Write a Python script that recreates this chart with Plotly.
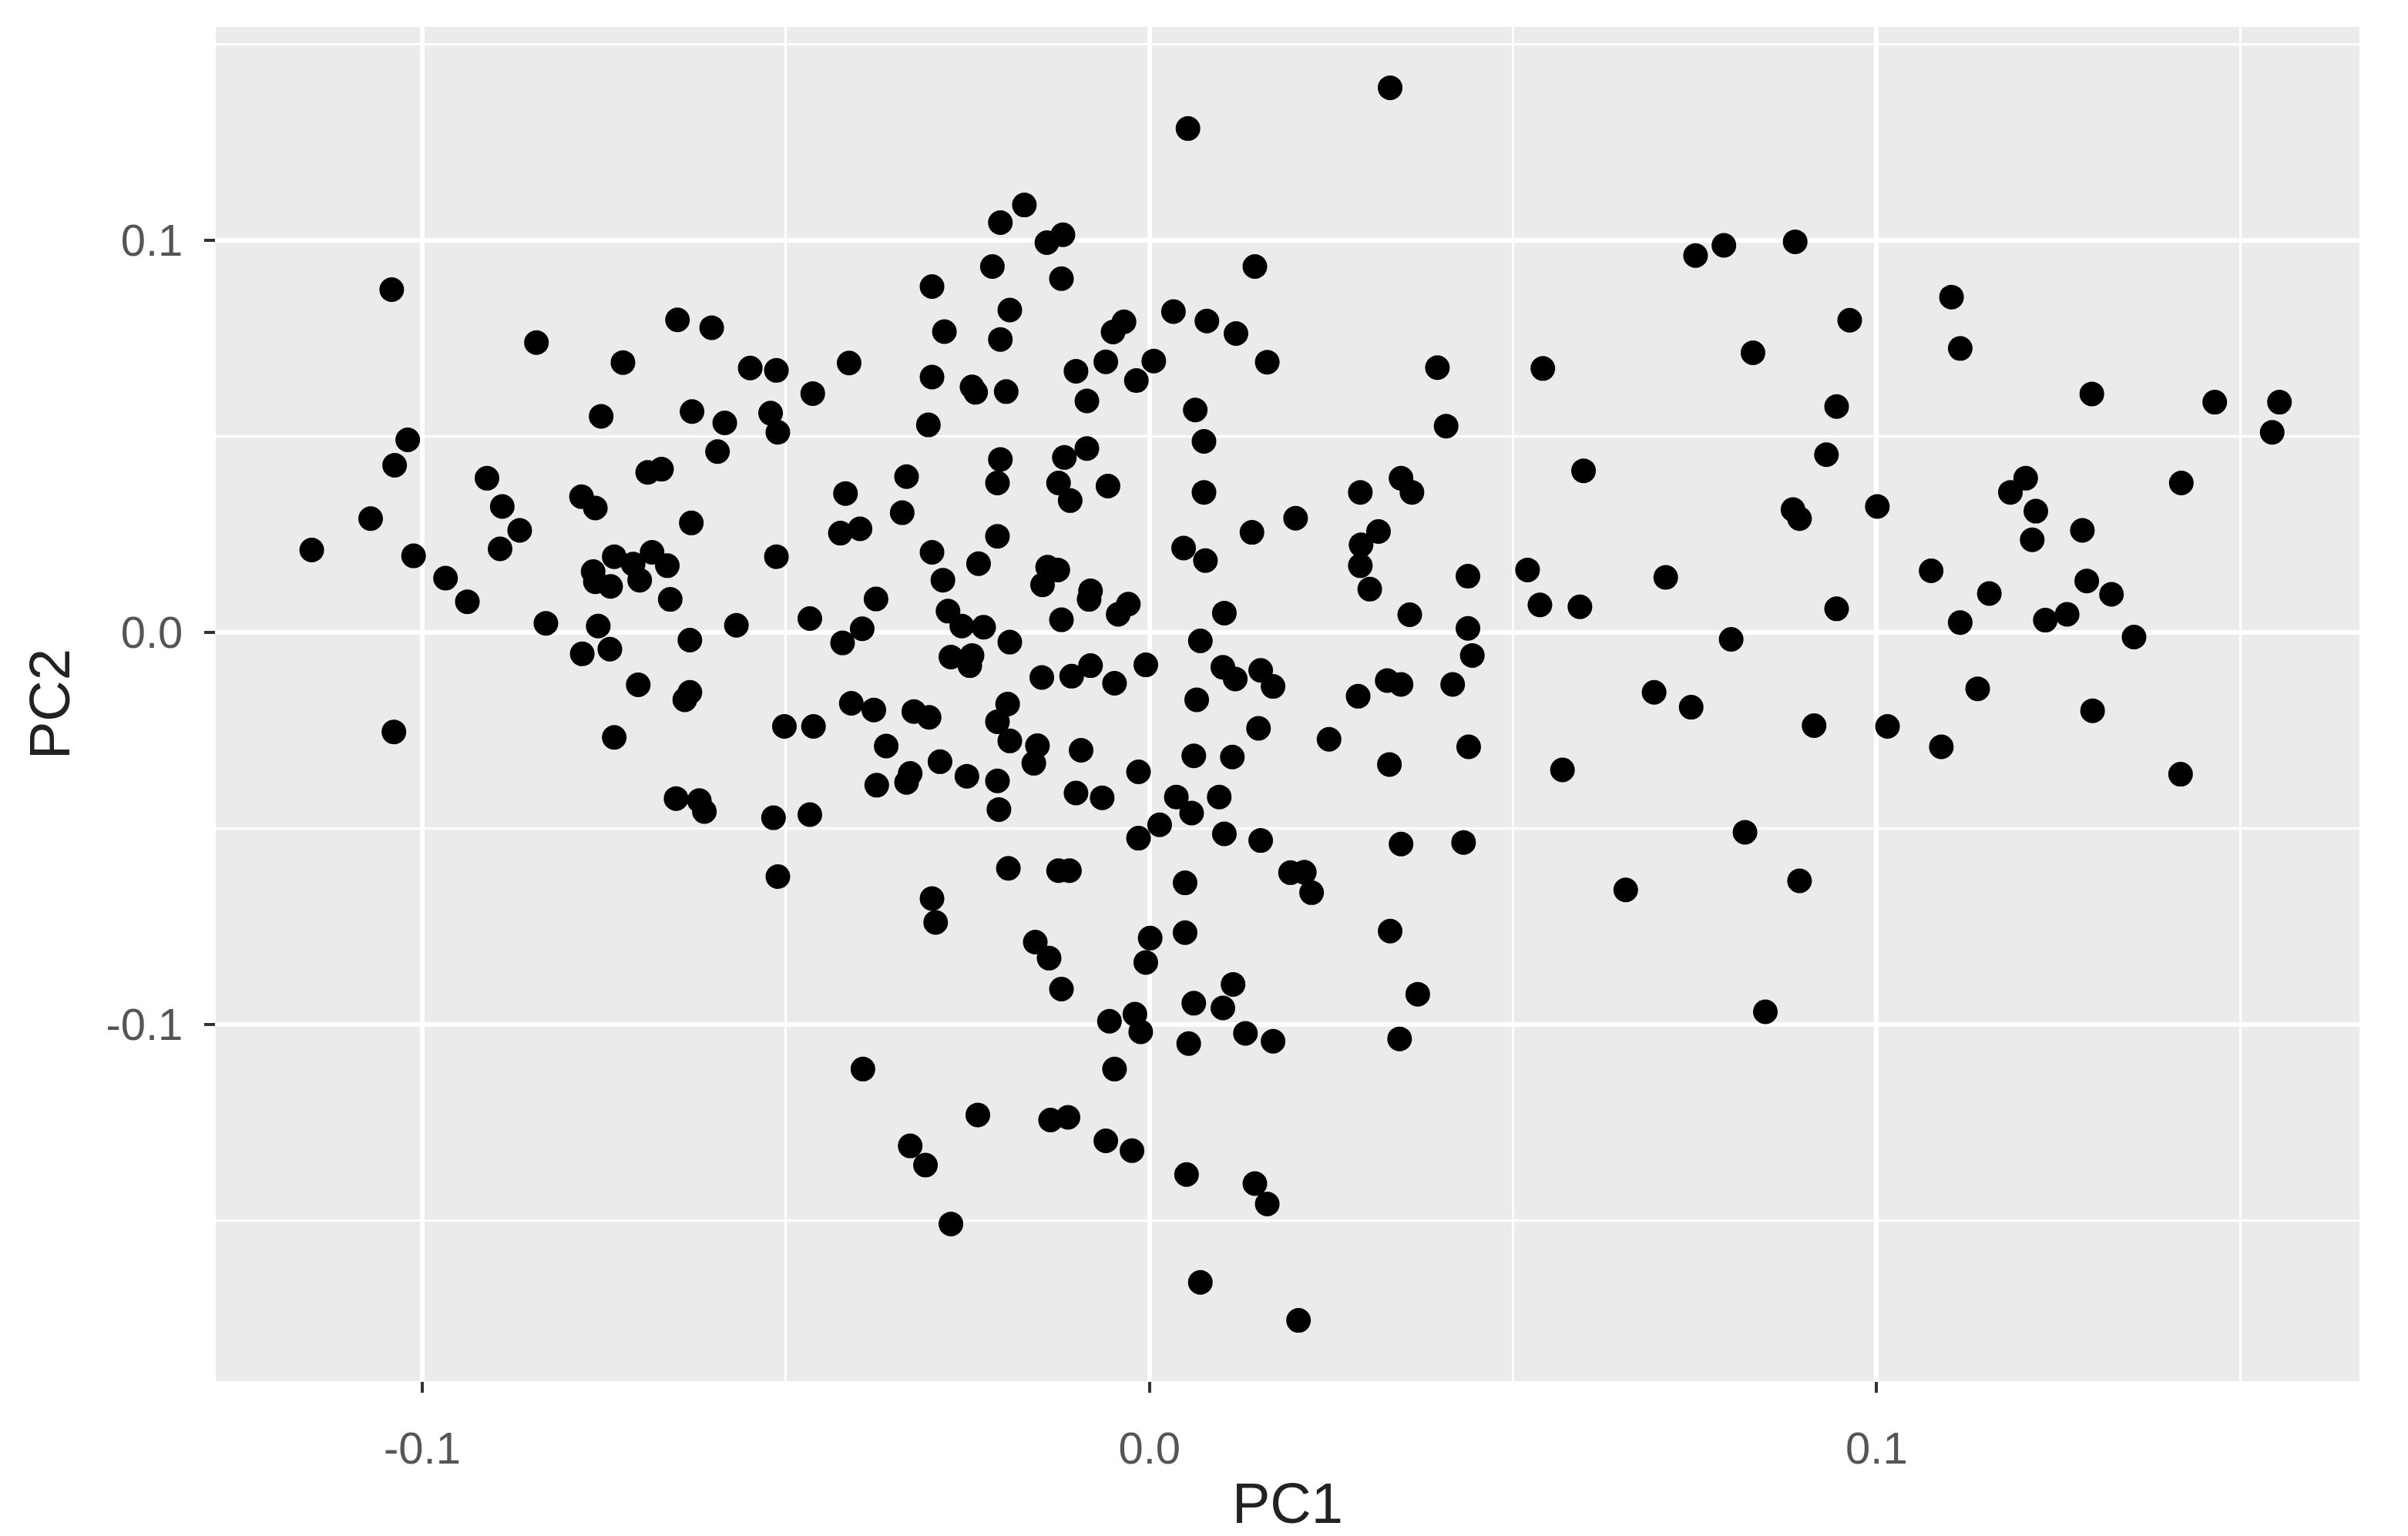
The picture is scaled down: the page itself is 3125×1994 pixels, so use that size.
import plotly.graph_objects as go

pc1 = [0.0053, 0.0331, -0.1042, -0.0843, -0.0649, -0.0602, -0.0724, -0.0549, -0.0754, -0.0629,
       -0.0584, -0.0594, -0.1020, -0.1038, -0.0911, -0.0690, -0.0671, -0.0781, -0.0762, -0.1071,
       -0.1152, -0.0890, -0.0866, -0.0893, -0.0630, -0.1012, -0.0968, -0.0938, -0.0765, -0.0762,
       -0.0736, -0.0741, -0.0710, -0.0701, -0.0684, -0.0663, -0.0659, -0.0830, -0.0758, -0.0742,
       -0.0780, -0.0632, -0.0568, -0.0703, -0.0632, -0.0639, -0.1039, -0.0736, -0.0651, -0.0619,
       -0.0612, -0.0172, -0.0205, -0.0141, -0.0119, -0.0216, -0.0121, -0.0299, 0.0145, -0.0192,
       -0.0282, -0.0205, -0.0035, -0.0050, 0.0033, 0.0079, 0.0119, 0.0162, -0.0060, 0.0006,
       -0.0101, -0.0018, -0.0086, 0.0063, 0.0075, -0.0513, -0.0413, -0.0463, -0.0521, -0.0511,
       -0.0299, -0.0244, -0.0239, -0.0197, -0.0304, -0.0334, -0.0205, -0.0209, -0.0086, -0.0117,
       -0.0125, -0.0057, 0.0075, -0.0418, -0.0109, -0.0340, -0.0425, -0.0398, -0.0513, -0.0209,
       -0.0299, -0.0235, -0.0284, -0.0140, -0.0126, -0.0147, -0.0376, -0.0467, -0.0081, -0.0083,
       -0.0029, -0.0043, -0.0121, 0.0103, 0.0141, 0.0047, 0.0077, -0.0277, -0.0258, -0.0228,
       -0.0192, -0.0395, -0.0422, -0.0273, -0.0244, -0.0247, -0.0148, -0.0107, -0.0081, -0.0048,
       -0.0005, 0.0070, 0.0101, 0.0118, 0.0153, 0.0170, 0.0065, 0.0150, -0.0410, -0.0379,
       -0.0324, -0.0303, -0.0502, -0.0462, -0.0195, -0.0209, -0.0192, -0.0154, -0.0159, -0.0094,
       -0.0362, -0.0288, -0.0329, -0.0334, -0.0375, -0.0251, -0.0209, -0.0207, -0.0015, 0.0061,
       0.0114, -0.0101, -0.0065, 0.0037, 0.0058, 0.0096, 0.0014, -0.0015, 0.0103, 0.0153,
       -0.0517, -0.0467, -0.0511, -0.0194, -0.0125, -0.0110, 0.0049, -0.0299, -0.0294, -0.0157,
       0.0001, 0.0049, -0.0138, -0.0121, -0.0005, 0.0115, 0.0101, 0.0061, -0.0055, -0.0020,
       -0.0012, 0.0054, 0.0132, 0.0170, -0.0394, -0.0048, -0.0236, -0.0136, -0.0112, -0.0329,
       -0.0308, -0.0060, -0.0024, 0.0051, 0.0145, 0.0162, -0.0273, 0.0070, 0.0205, 0.0331,
       0.0369, 0.0344, 0.0847, 0.0290, 0.0346, 0.0361, 0.0597, 0.0201, 0.0315, 0.0291,
       0.0290, 0.0303, 0.0438, 0.0520, 0.0537, 0.0592, 0.0710, 0.0885, 0.0894, 0.0358,
       0.0438, 0.0444, 0.0800, 0.0327, 0.0346, 0.0287, 0.0417, 0.0694, 0.0745, 0.0914,
       0.0247, 0.0439, 0.0330, 0.0568, 0.0819, 0.0346, 0.0432, 0.0194, 0.0213, 0.0223,
       0.0655, 0.0894, 0.0751, 0.0790, 0.0888, 0.0396, 0.0541, 0.0830, 0.0408, 0.0963,
       0.1103, 0.1115, 0.1296, 0.1465, 0.1554, 0.1544, 0.0945, 0.0931, 0.1205, 0.1184,
       0.1419, 0.1001, 0.1219, 0.1214, 0.1283, 0.1075, 0.1155, 0.0945, 0.1115, 0.1232,
       0.1262, 0.1289, 0.1323, 0.1354, 0.1139, 0.1297, 0.1015, 0.1089, 0.1418]

pc2 = [0.1285, 0.1389, 0.0874, 0.0739, 0.0797, 0.0777, 0.0688, 0.0674, 0.0551, 0.0563,
       0.0534, 0.0461, 0.0491, 0.0426, 0.0393, 0.0408, 0.0416, 0.0346, 0.0317, 0.0290,
       0.0210, 0.0321, 0.0260, 0.0213, 0.0279, 0.0195, 0.0138, 0.0078, 0.0155, 0.0129,
       0.0193, 0.0117, 0.0174, 0.0133, 0.0204, 0.0170, 0.0084, 0.0023, 0.0016, -0.0043,
       -0.0055, -0.0020, 0.0018, -0.0134, -0.0153, -0.0172, -0.0254, -0.0268, -0.0424, -0.0429,
       -0.0457, 0.1090, 0.1045, 0.0994, 0.1014, 0.0933, 0.0902, 0.0882, 0.0933, 0.0822,
       0.0767, 0.0747, 0.0792, 0.0766, 0.0818, 0.0794, 0.0762, 0.0689, 0.0690, 0.0692,
       0.0666, 0.0642, 0.0590, 0.0567, 0.0487, 0.0668, 0.0687, 0.0609, 0.0559, 0.0510,
       0.0651, 0.0626, 0.0612, 0.0614, 0.0529, 0.0397, 0.0441, 0.0381, 0.0469, 0.0446,
       0.0381, 0.0373, 0.0357, 0.0354, 0.0336, 0.0305, 0.0253, 0.0264, 0.0193, 0.0245,
       0.0204, 0.0175, 0.0133, 0.0166, 0.0159, 0.0121, 0.0085, 0.0035, 0.0106, 0.0084,
       0.0072, 0.0046, 0.0032, 0.0049, 0.0255, 0.0215, 0.0183, 0.0054, 0.0016, 0.0013,
       -0.0025, 0.0009, -0.0027, -0.0063, -0.0059, -0.0085, -0.0115, -0.0112, -0.0085, -0.0130,
       -0.0083, -0.0022, -0.0089, -0.0119, -0.0097, -0.0138, -0.0172, -0.0245, -0.0181, -0.0198,
       -0.0202, -0.0217, -0.0240, -0.0240, -0.0183, -0.0228, -0.0277, -0.0289, -0.0334, -0.0301,
       -0.0290, -0.0330, -0.0360, -0.0383, -0.0390, -0.0367, -0.0379, -0.0452, -0.0356, -0.0315,
       -0.0318, -0.0410, -0.0422, -0.0420, -0.0461, -0.0420, -0.0491, -0.0525, -0.0514, -0.0531,
       -0.0473, -0.0465, -0.0623, -0.0602, -0.0608, -0.0608, -0.0639, -0.0679, -0.0740, -0.0790,
       -0.0780, -0.0766, -0.0831, -0.0910, -0.0842, -0.0898, -0.0958, -0.0946, -0.0992, -0.0974,
       -0.1019, -0.1049, -0.1023, -0.1043, -0.1114, -0.1114, -0.1231, -0.1244, -0.1237, -0.1310,
       -0.1359, -0.1297, -0.1322, -0.1383, -0.1406, -0.1458, -0.1509, -0.1658, -0.1755, -0.0762,
       -0.0923, -0.1037, -0.0968, 0.0357, 0.0393, 0.0357, 0.0412, 0.0291, 0.0257, 0.0223,
       0.0170, 0.0110, 0.0143, 0.0159, 0.0070, 0.0065, 0.0140, 0.0313, 0.0290, 0.0045,
       0.0010, -0.0059, -0.0018, -0.0123, -0.0133, -0.0163, -0.0133, -0.0153, -0.0191, -0.0238,
       -0.0273, -0.0292, -0.0337, -0.0351, -0.0510, -0.0540, -0.0536, -0.0613, -0.0612, -0.0664,
       -0.0657, -0.0634, 0.0961, 0.0987, 0.0996, 0.0675, 0.0673, 0.0713, 0.0526, 0.0796,
       0.0855, 0.0724, 0.0608, 0.0587, 0.0587, 0.0510, 0.0576, 0.0453, 0.0393, 0.0357,
       0.0381, 0.0321, 0.0309, 0.0236, 0.0260, 0.0157, 0.0099, 0.0060, 0.0025, 0.0031,
       0.0046, 0.0131, 0.0097, -0.0012, -0.0144, -0.0200, -0.0240, -0.0292, -0.0362]

x_ticks = [-0.1, 0.0, 0.1]
x_tick_labels = ["-0.1", "0.0", "0.1"]
y_ticks = [-0.1, 0.0, 0.1]
y_tick_labels = ["-0.1", "0.0", "0.1"]

fig = go.Figure()
fig.add_trace(go.Scatter(
    x=pc1, y=pc2, mode="markers",
    marker=dict(color="black", size=32, line=dict(width=0)),
    showlegend=False,
))

font_family = "Liberation Sans, Arial, sans-serif"
axis_common = dict(
    showgrid=True, gridcolor="white", gridwidth=6,
    zeroline=False, showline=False,
    ticks="outside", ticklen=14, tickwidth=4, tickcolor="#333333",
    tickfont=dict(family=font_family, size=58, color="#555555"),
    minor=dict(dtick=0.05, showgrid=True, gridcolor="white", gridwidth=3, ticks=""),
)

fig.update_xaxes(
    **axis_common,
    range=[-0.1284, 0.1664],
    tickvals=x_ticks, ticktext=x_tick_labels,
    ticklabelstandoff=22,
    title=dict(text="PC1", font=dict(family=font_family, size=74, color="#222222"), standoff=14),
)
fig.update_yaxes(
    **axis_common,
    range=[-0.191, 0.1544],
    tickvals=y_ticks, ticktext=y_tick_labels,
    ticklabelstandoff=16,
    title=dict(text="PC2", font=dict(family=font_family, size=74, color="#222222"), standoff=22),
)
fig.update_layout(
    width=3125, height=1994,
    margin=dict(l=272, r=71, t=27, b=209),
    plot_bgcolor="#EBEBEB", paper_bgcolor="white",
)

fig.write_html("out.html")
